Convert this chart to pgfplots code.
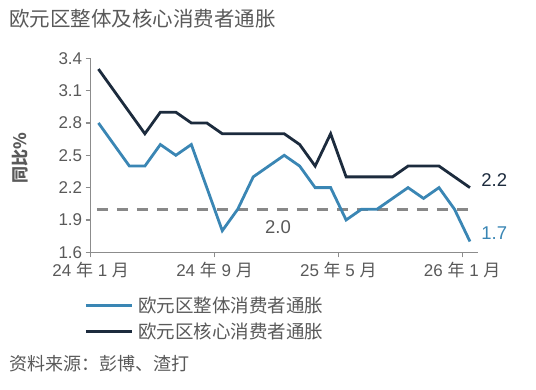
\documentclass[border=0pt]{standalone}
\usepackage{fontspec}
\setmainfont{Liberation Sans}
\newfontfamily\cjk{Noto Sans CJK SC}
\usepackage{pgfplots}
\pgfplotsset{compat=1.18}
\definecolor{blueL}{HTML}{3A86B4}
\definecolor{navyL}{HTML}{1C2B3D}
\definecolor{txt}{HTML}{595959}
\definecolor{axc}{HTML}{8C8C8C}
\definecolor{dashc}{HTML}{888888}
\newcommand\ym[2]{#1 {\cjk 年} #2 {\cjk 月}}
\pgfplotstableread{
x headline core
0 2.8 3.3
1 2.6 3.1
2 2.4 2.9
3 2.4 2.7
4 2.6 2.9
5 2.5 2.9
6 2.6 2.8
7 2.2 2.8
8 1.8 2.7
9 2.0 2.7
10 2.3 2.7
11 2.4 2.7
12 2.5 2.7
13 2.4 2.6
14 2.2 2.4
15 2.2 2.7
16 1.9 2.3
17 2.0 2.3
18 2.0 2.3
19 2.1 2.3
20 2.2 2.4
21 2.1 2.4
22 2.2 2.4
23 2.0 2.3
24 1.7 2.2
}\datatable
\begin{document}
\begin{tikzpicture}
\useasboundingbox (0,0) rectangle (536pt,390pt);
\node[anchor=west, font=\fontsize{20.5}{24}\selectfont\cjk, text=txt, inner sep=0] at (9pt,371pt) {欧元区整体及核心消费者通胀};
\node[rotate=90, font=\fontsize{17}{20}\selectfont\cjk\bfseries, text=txt, inner sep=0] at (20pt,232pt) {同比\%};
\node[anchor=west, font=\fontsize{18}{21}\selectfont\cjk, text=txt, inner sep=0] at (9pt,26pt) {资料来源：彭博、渣打};
\begin{axis}[
  at={(90.7pt,137.7pt)}, anchor=south west,
  scale only axis, width=387pt, height=194pt,
  xmin=-0.5, xmax=24.5, ymin=1.6, ymax=3.4,
  clip=false,
  ytick={1.6,1.9,2.2,2.5,2.8,3.1,3.4},
  yticklabel style={/pgf/number format/.cd, fixed, fixed zerofill, precision=1},
  xtick={-0.5,7.5,15.5,23.5},
  xticklabels={\ym{24}{1},\ym{24}{9},\ym{25}{5},\ym{26}{1}},
  axis x line*=bottom, axis y line*=left,
  axis line style={axc, line width=1.2pt},
  tick style={axc, line width=1.2pt},
  tick align=outside, major tick length=5pt,
  ticklabel style={font=\fontsize{17}{20}\selectfont, text=txt},
  xticklabel style={yshift=-1pt},
  /pgf/number format/assume math mode=true,
  legend style={at={(axis description cs:-0.017,-0.22)}, anchor=north west, draw=none, fill=none,
    font=\fontsize{18.5}{22}\selectfont\cjk, text=txt, row sep=5pt, inner sep=0pt,
    nodes={inner xsep=5pt}},
  legend cell align=left,
  legend image code/.code={\draw[#1, line width=3pt] (0pt,0pt) -- (46pt,0pt);},
]
\addplot[dashc, line width=3pt, dash pattern=on 11.5pt off 8.5pt, forget plot] coordinates {(-0.1,2.0) (24,2.0)};
\addplot[blueL, line width=2.8pt] table[x=x, y=headline] {\datatable};
\addlegendentry{欧元区整体消费者通胀}
\addplot[navyL, line width=2.8pt] table[x=x, y=core] {\datatable};
\addlegendentry{欧元区核心消费者通胀}
\node[text=txt, font=\fontsize{18.5}{21}\selectfont, inner sep=0] at (axis cs:11.6,1.835) {2.0};
\node[anchor=west, text=navyL, font=\fontsize{18.5}{21}\selectfont, inner sep=0] at (axis cs:24.73,2.27) {2.2};
\node[anchor=west, text=blueL, font=\fontsize{18.5}{21}\selectfont, inner sep=0] at (axis cs:24.73,1.776) {1.7};
\end{axis}
\end{tikzpicture}
\end{document}
